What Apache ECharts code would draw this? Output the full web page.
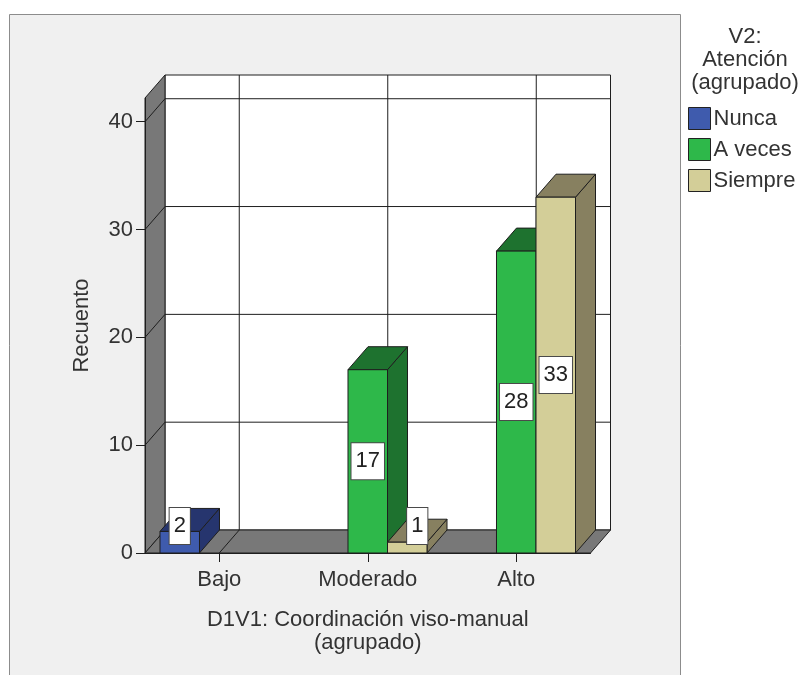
<!DOCTYPE html>
<html>
<head>
<meta charset="utf-8">
<script src="https://cdn.jsdelivr.net/npm/echarts@6/dist/echarts.min.js"></script>
<style>
  html, body { margin: 0; padding: 0; background: #ffffff; }
  #chart { width: 801px; height: 675px; }
</style>
</head>
<body>
<div id="chart"></div>
<script>
// Counts per coordination level, split by attention group
const categories = ['Bajo', 'Moderado', 'Alto'];
const seriesNames = ['Nunca', 'A veces', 'Siempre'];
const nunca = [2, 0, 0];
const aVeces = [0, 17, 28];
const siempre = [0, 1, 33];
const yTicks = [0, 10, 20, 30, 40];
const yMax = 42.2;

const seriesValues = [nunca, aVeces, siempre];

// Face colours: front, top/side (shaded)
const frontColors = ['#3f5bad', '#2eb84a', '#d3ce98'];
const shadeColors = ['#26356e', '#1e722f', '#878060'];

// Pseudo-3D depth offset
const DX = 20;
const DY = 23;
const FONT = '"Liberation Sans", Arial, sans-serif';
const LINE = '#1e1e1e';

function poly(points, fill, z2) {
  return {
    type: 'polygon',
    z2: z2,
    shape: { points: points },
    style: { fill: fill, stroke: LINE, lineWidth: 1 }
  };
}

function line(x1, y1, x2, y2) {
  return {
    type: 'line',
    z2: 5,
    shape: { x1: x1, y1: y1, x2: x2, y2: y2 },
    style: { stroke: LINE, lineWidth: 1 }
  };
}

// Walls, floor and grid lines of the 3D box
function renderBackdrop(params, api) {
  const band = api.size([1, 0])[0];
  const first = api.coord([0, 0]);
  const last = api.coord([categories.length - 1, 0]);
  const xL = first[0] - band / 2;
  const xR = last[0] + band / 2;
  const y0 = first[1];
  const yTop = api.coord([0, yMax])[1];

  const children = [];
  children.push({
    type: 'rect', z2: 1,
    shape: { x: xL + DX, y: yTop - DY, width: xR - xL, height: y0 - yTop },
    style: { fill: '#ffffff', stroke: LINE, lineWidth: 1 }
  });
  children.push(poly([[xL, y0], [xL, yTop], [xL + DX, yTop - DY], [xL + DX, y0 - DY]], '#787878', 2));
  children.push(poly([[xL, y0], [xR, y0], [xR + DX, y0 - DY], [xL + DX, y0 - DY]], '#787878', 2));

  yTicks.forEach(function (v) {
    if (v === 0) return;
    const y = api.coord([0, v])[1];
    children.push(line(xL + DX, y - DY, xR + DX, y - DY));
    children.push(line(xL, y, xL + DX, y - DY));
  });
  categories.forEach(function (c, i) {
    const cx = api.coord([i, 0])[0];
    children.push(line(cx + DX, y0 - DY, cx + DX, yTop - DY));
    children.push(line(cx, y0, cx + DX, y0 - DY));
  });
  return { type: 'group', children: children };
}

function makeBarRenderer(k) {
  return function (params, api) {
    const cat = api.value(0);
    const val = api.value(1);
    if (!val) return null;
    const band = api.size([1, 0])[0];
    const bw = band * 0.266;
    const base = api.coord([cat, 0]);
    const cx = base[0] + (k - 1) * bw;
    const y0 = base[1];
    const y1 = api.coord([cat, val])[1];
    const x0 = cx - bw / 2;
    const x1 = cx + bw / 2;
    const zb = 10 + k * 4;

    const children = [
      poly([[x1, y1], [x1 + DX, y1 - DY], [x1 + DX, y0 - DY], [x1, y0]], shadeColors[k], zb),
      poly([[x0, y1], [x0 + DX, y1 - DY], [x1 + DX, y1 - DY], [x1, y1]], shadeColors[k], zb + 1),
      poly([[x0, y1], [x1, y1], [x1, y0], [x0, y0]], frontColors[k], zb + 2)
    ];

    // Value label: centred on the front face, lifted above the floor for short bars
    let lx = cx;
    let ly = (y0 + y1) / 2;
    const half = 18;
    if (ly + half > y0 - 9) {
      ly = y0 - 9 - half;
      if (k > 0 && seriesValues[k - 1][cat] > 0) lx += DX / 2;
    }
    children.push({
      type: 'text',
      z2: 100,
      style: {
        text: String(val),
        x: lx, y: ly,
        align: 'center', verticalAlign: 'middle',
        fontFamily: FONT, fontSize: 22, lineHeight: 24,
        fill: '#222222',
        backgroundColor: '#ffffff',
        borderColor: '#4a4a4a', borderWidth: 1,
        padding: [6, 4, 6, 4]
      }
    });
    return { type: 'group', children: children };
  };
}

const barSeries = seriesNames.map(function (name, k) {
  return {
    type: 'custom',
    name: name,
    z: 3,
    itemStyle: { color: frontColors[k] },
    renderItem: makeBarRenderer(k),
    encode: { x: 0, y: 1 },
    data: seriesValues[k].map(function (v, i) { return [i, v]; })
  };
});

const chart = echarts.init(document.getElementById('chart'), null, { renderer: 'canvas' });

chart.setOption({
  animation: false,
  backgroundColor: '#ffffff',
  textStyle: { fontFamily: FONT },
  graphic: [
    {
      type: 'rect', z: -10,
      shape: { x: 9.5, y: 14.5, width: 671, height: 700 },
      style: { fill: '#f0f0f0', stroke: '#8c8c8c', lineWidth: 1 }
    },
    {
      type: 'text', z: 5,
      x: 745, y: 25,
      style: {
        text: 'V2:\nAtención\n(agrupado)',
        align: 'center',
        verticalAlign: 'top',
        fontFamily: FONT, fontSize: 22, lineHeight: 23,
        fill: '#333333'
      }
    }
  ],
  legend: {
    orient: 'vertical',
    left: 688, top: 107,
    icon: 'rect',
    itemWidth: 22, itemHeight: 22, itemGap: 8,
    selectedMode: false,
    padding: 0,
    itemStyle: { borderColor: '#222222', borderWidth: 1 },
    textStyle: { fontFamily: FONT, fontSize: 22, lineHeight: 22, color: '#333333', padding: [0, 0, 0, -2] },
    data: seriesNames
  },
  grid: { left: 145, right: 210.5, top: 98, bottom: 122, containLabel: false },
  xAxis: {
    type: 'category',
    data: categories,
    z: 1,
    name: 'D1V1: Coordinación viso-manual\n(agrupado)',
    nameLocation: 'middle',
    nameGap: 55,
    nameTextStyle: { fontFamily: FONT, fontSize: 22, lineHeight: 23, color: '#333333' },
    axisLine: { show: true, lineStyle: { color: LINE, width: 1 } },
    axisTick: { show: true, alignWithLabel: true, length: 9, lineStyle: { color: LINE } },
    axisLabel: { fontFamily: FONT, fontSize: 22, color: '#333333', margin: 16 },
    splitLine: { show: false }
  },
  yAxis: {
    type: 'value',
    min: 0, max: yMax, interval: 10,
    z: 1,
    name: 'Recuento',
    nameLocation: 'middle',
    nameRotate: 90,
    nameGap: 52,
    nameTextStyle: { fontFamily: FONT, fontSize: 22, color: '#333333' },
    axisLine: { show: true, lineStyle: { color: LINE, width: 1 } },
    axisTick: { show: true, length: 9, customValues: yTicks, lineStyle: { color: LINE } },
    axisLabel: {
      fontFamily: FONT, fontSize: 22, color: '#333333', margin: 12,
      customValues: yTicks
    },
    splitLine: { show: false }
  },
  series: [
    {
      type: 'custom',
      name: 'backdrop',
      z: 0,
      silent: true,
      renderItem: renderBackdrop,
      encode: { x: 0, y: 1 },
      data: [[0, 0]]
    }
  ].concat(barSeries)
});
</script>
</body>
</html>
